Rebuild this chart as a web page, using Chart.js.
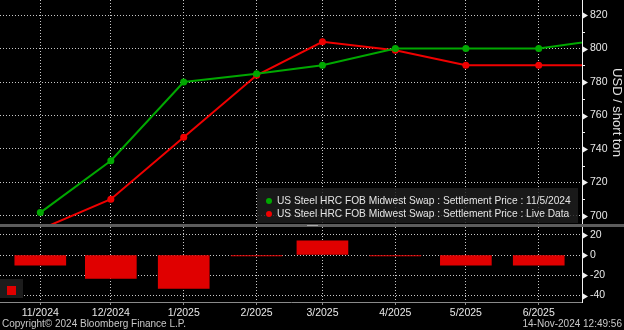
<!DOCTYPE html>
<html>
<head>
<meta charset="utf-8">
<script src="https://cdn.jsdelivr.net/npm/chart.js@4.4.1/dist/chart.umd.min.js"></script>
<style>
  html, body { margin: 0; padding: 0; background: #000; }
  #wrap { position: relative; width: 624px; height: 330px; background: #000; overflow: hidden;
          font-family: "Liberation Sans", Arial, sans-serif; }
  canvas { position: absolute; left: 0; }
  #top { top: 0; }
  #bot { top: 227px; }
  #sep { position: absolute; left: 0; top: 224px; width: 624px; height: 3px; background: #5c5c5c; }
  #knob { position: absolute; left: 307px; top: 225px; width: 11px; height: 1px; background: #a8a8a8; }
  #legend { position: absolute; left: 257px; top: 188px; width: 321px; height: 35px;
            background: rgba(30, 30, 30, 0.82); color: #e4e4e4; font-size: 10.2px; }
  #legend .row { position: absolute; left: 9px; height: 13px; line-height: 13px; white-space: nowrap; }
  #legend .dot { display: inline-block; width: 6px; height: 6px; border-radius: 50%; margin-right: 5px;
                 vertical-align: 0px; }
  #mini { position: absolute; left: 0; top: 279px; width: 23px; height: 19px; background: #1c1c1c; }
  #mini span { position: absolute; left: 7px; top: 7px; width: 9px; height: 9px; background: #e00000; }
  .foot { position: absolute; top: 317px; font-size: 10px; color: #c8c8c8; line-height: 13px; white-space: nowrap; }
</style>
</head>
<body>
<div id="wrap">
  <canvas id="top" width="624" height="225"></canvas>
  <canvas id="bot" width="624" height="103"></canvas>
  <div id="sep"></div>
  <div id="knob"></div>
  <div id="legend">
    <div class="row" style="top:6px"><span class="dot" style="background:#00a800"></span>US Steel HRC FOB Midwest Swap : Settlement Price : 11/5/2024</div>
    <div class="row" style="top:19px"><span class="dot" style="background:#f00000"></span>US Steel HRC FOB Midwest Swap : Settlement Price : Live Data</div>
  </div>
  <div id="mini"><span></span></div>
  <div class="foot" style="left:2px">Copyright© 2024 Bloomberg Finance L.P.</div>
  <div class="foot" style="right:2px">14-Nov-2024 12:49:56</div>
</div>
<script>
// Contract months of the swap curve
const months = ['11/2024', '12/2024', '1/2025', '2/2025', '3/2025', '4/2025', '5/2025', '6/2025', '7/2025'];
// Settlement prices, USD per short ton
const settle1105 = [702, 733, 780, 785, 790, 800, 800, 800, 806];
const liveData   = [692, 710, 747, 784, 804, 799, 790, 790, 790];
// Live minus 11/5 settlement
const spread = liveData.map((v, i) => v - settle1105[i]);
// Axis tick values
const xTickLabels = ['11/2024', '12/2024', '1/2025', '2/2025', '3/2025', '4/2025', '5/2025', '6/2025'];
const priceTicks  = [700, 710, 720, 730, 740, 750, 760, 770, 780, 790, 800, 810, 820];
const spreadTicks = [-40, -30, -20, -10, 0, 10, 20];

// Days since 1 Nov 2024 for a "m/yyyy" label
const BASE = Date.UTC(2024, 10, 1);
function dayOf(lbl) {
  const [m, y] = lbl.split('/').map(Number);
  return (Date.UTC(y, m - 1, 1) - BASE) / 864e5;
}
const xTickDays = xTickLabels.map(dayOf);
const X_MIN = -17.14, X_MAX = 230.4;

Chart.defaults.font.family = '"Liberation Sans", Arial, sans-serif';
Chart.defaults.color = '#e8e8e8';

const GRID = '#c8c8c8';
const DASH = [1, 2];

function xScale(showLabels) {
  return {
    type: 'linear', min: X_MIN, max: X_MAX, offset: false,
    afterBuildTicks: s => { s.ticks = xTickDays.map(v => ({ value: v })); },
    ticks: {
      display: showLabels, autoSkip: false, maxRotation: 0, padding: 2,
      font: { size: 10.5 }, color: '#e8e8e8',
      callback: v => xTickLabels[xTickDays.indexOf(v)] || ''
    },
    grid: { offset: false, color: GRID, lineWidth: 1, drawTicks: showLabels, tickLength: 3,
            tickColor: '#8a8a8a', tickBorderDash: [] },
    border: { display: showLabels, color: '#8a8a8a', width: 1, dash: DASH },
    afterFit: s => {
      s.height = showLabels ? 28 : 0;
      s.paddingLeft = 0; s.paddingRight = 0;
    }
  };
}

function yScale(ticks, min, max, major) {
  return {
    type: 'linear', position: 'right', min: min, max: max,
    afterBuildTicks: s => { s.ticks = ticks.map(v => ({ value: v })); },
    ticks: {
      padding: 8, font: { size: 10.5 }, color: '#e8e8e8',
      callback: v => (v % major === 0 ? String(v) : '')
    },
    grid: { drawTicks: false, lineWidth: 1,
            color: c => (c.tick && c.tick.value % major === 0 ? GRID : 'rgba(0,0,0,0)') },
    border: { display: true, color: '#f2f2f2', width: 1, dash: DASH },
    afterFit: s => {
      s.width = 42;
      s.paddingTop = 0; s.paddingBottom = 0;
    }
  };
}

// Arrow markers on major ticks, short marks on minor ticks
function axisMarks(major) {
  return {
    id: 'axisMarks',
    afterDraw(chart) {
      const s = chart.scales.y;
      const ctx = chart.ctx;
      const x0 = Math.round(s.left);
      ctx.save();
      ctx.fillStyle = '#f2f2f2';
      ctx.strokeStyle = '#f2f2f2';
      ctx.lineWidth = 1;
      s.ticks.forEach(t => {
        const y = Math.round(s.getPixelForValue(t.value));
        if (t.value % major === 0) {
          ctx.beginPath();
          ctx.moveTo(x0 + 1, y - 2.5);
          ctx.lineTo(x0 + 6, y + 0.5);
          ctx.lineTo(x0 + 1, y + 3.5);
          ctx.closePath();
          ctx.fill();
        } else {
          ctx.beginPath();
          ctx.moveTo(x0, y + 0.5);
          ctx.lineTo(x0 + 3, y + 0.5);
          ctx.stroke();
        }
      });
      ctx.restore();
    }
  };
}

const series = vals => months.map((m, i) => ({ x: dayOf(m), y: vals[i] }));

new Chart(document.getElementById('top'), {
  type: 'line',
  data: {
    datasets: [
      { label: 'US Steel HRC FOB Midwest Swap : Settlement Price : 11/5/2024',
        data: series(settle1105), borderColor: '#00a800', backgroundColor: '#00a800',
        borderWidth: 2, pointRadius: 3.5, pointBorderWidth: 0, tension: 0 },
      { label: 'US Steel HRC FOB Midwest Swap : Settlement Price : Live Data',
        data: series(liveData), borderColor: '#f00000', backgroundColor: '#f00000',
        borderWidth: 2, pointRadius: 3.5, pointBorderWidth: 0, tension: 0 }
    ]
  },
  options: {
    responsive: false, animation: false,
    layout: { padding: 0, autoPadding: false },
    plugins: { legend: { display: false }, tooltip: { enabled: false } },
    scales: {
      x: xScale(false),
      y: Object.assign(yScale(priceTicks, 694.6, 829, 20), {
        title: { display: true, text: 'USD / short ton', color: '#e0e0e0',
                 font: { size: 13 }, padding: { top: 0, bottom: 0 } }
      })
    }
  },
  plugins: [axisMarks(20)]
});

new Chart(document.getElementById('bot'), {
  type: 'bar',
  data: {
    datasets: [
      { label: 'Live - 11/5/2024', data: series(spread), backgroundColor: '#e00000',
        borderWidth: 0, barThickness: 51, minBarLength: 1 }
    ]
  },
  options: {
    responsive: false, animation: false,
    layout: { padding: 0, autoPadding: false },
    plugins: { legend: { display: false }, tooltip: { enabled: false } },
    scales: {
      x: xScale(true),
      y: yScale(spreadTicks, -46.3, 27.6, 20)
    }
  },
  plugins: [axisMarks(20)]
});
</script>
</body>
</html>
